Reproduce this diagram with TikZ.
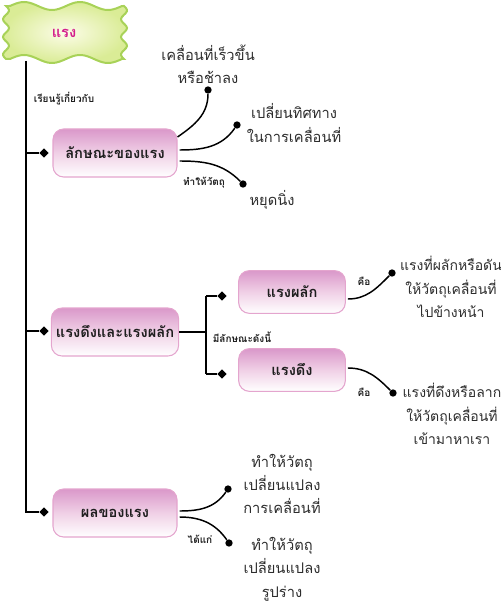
\documentclass[tikz,border=0pt]{standalone}
\usepackage{fontspec}
\setmainfont{Loma}[Script=Thai]
\usetikzlibrary{shapes.geometric,calc}
\definecolor{boxtop}{RGB}{218,152,202}
\definecolor{boxmid}{RGB}{240,208,230}
\definecolor{boxline}{RGB}{228,165,206}
\definecolor{txt}{RGB}{30,30,30}
\definecolor{leaftxt}{RGB}{45,45,45}
\definecolor{rootin}{RGB}{252,252,232}
\definecolor{rootout}{RGB}{218,236,150}
\definecolor{rootline}{RGB}{168,210,88}
\definecolor{roottxt}{RGB}{212,30,140}
\begin{document}
\begin{tikzpicture}[x=0.75pt,y=-0.75pt,
  box/.style={draw=boxline, line width=0.8pt, rounded corners=8pt,
    top color=boxtop, bottom color=white, middle color=boxmid,
    minimum width=93pt, minimum height=36pt, text=txt,
    font=\bfseries\fontsize{11}{13}\selectfont},
  sbox/.style={box, minimum width=80pt, minimum height=32pt},
  leaf/.style={align=center, text=leaftxt, font=\fontsize{11}{17.5}\selectfont},
  rleaf/.style={leaf, font=\fontsize{10.5}{17.5}\selectfont},
  lab/.style={text=txt, font=\bfseries\fontsize{7.5}{9}\selectfont},
  dia/.style={diamond, fill=black, inner sep=0pt, minimum size=7pt},
  dotn/.style={circle, fill=black, inner sep=0pt, minimum size=5.5pt},
  conn/.style={line width=1.1pt, black},
  trunk/.style={line width=1pt, black}]
\useasboundingbox (0,0) rectangle (500,602);

% root wavy shape
\path[draw=rootline, line width=1.5pt, inner color=rootin, outer color=rootout]
  plot[domain=0:1, samples=40, smooth] ({10+112*\x},{6-4*sin(720*\x)})
  -- plot[domain=0:1, samples=30, smooth] ({124+3*sin(1080*\x)},{6+53*\x})
  -- plot[domain=0:1, samples=40, smooth] ({122-112*\x},{59+4*sin(720*\x)})
  -- plot[domain=0:1, samples=30, smooth] ({6-3*sin(1080*\x)},{59-53*\x})
  -- cycle;
\node[minimum width=90pt, minimum height=41pt, text=roottxt,
  font=\bfseries\fontsize{11}{13}\selectfont] (root) at (64,33) {แรง};
\coordinate (t0) at (26,61);

% labels on trunk
\node[lab] (lk) at (64,99) {เรียนรู้เกี่ยวกับ};

% branch 1
\node[dia] (d1) at (44,153) {};
\node[box] (b1) at (115,153) {ลักษณะของแรง};
\node[dotn] (p1) at (208,90) {};
\node[dotn] (p2) at (237,125) {};
\node[dotn] (p3) at (243,184) {};
\node[leaf] (l1) at (208,64) {เคลื่อนที่เร็วขึ้น\\หรือช้าลง};
\node[leaf] (l2) at (294,123) {เปลี่ยนทิศทาง\\ในการเคลื่อนที่};
\node[leaf] (l3) at (272,200) {หยุดนิ่ง};
\node[lab] (lb1) at (204,183) {ทำให้วัตถุ};
\draw[conn] ($(b1.east)+(0,-16)$) to[out=35,in=-90] (p1);
\draw[conn] ($(b1.east)+(2,-3)$) to[out=0,in=-125] (p2);
\draw[conn] ($(b1.east)+(2,8)$) to[out=0,in=135] (p3);

% branch 2
\node[dia] (d2) at (44,331) {};
\node[box] (b2) at (115,332) {แรงดึงและแรงผลัก};
\coordinate (j) at (206,332);
\node[dia] (d4) at (222,296) {};
\node[dia] (d5) at (222,374) {};
\node[sbox] (b4) at (292,292) {แรงผลัก};
\node[sbox] (b5) at (292,370) {แรงดึง};
\node[lab] (lb2) at (242,337) {มีลักษณะดังนี้};
\draw[trunk] (b2.east) -- (j);
\draw[trunk] (j |- d4) -- (j |- d5);
\draw[trunk] (j |- d4) -- (d4);
\draw[trunk] (j |- d5) -- (d5);
\node[dotn] (q1) at (392,273) {};
\node[dotn] (q2) at (393,393) {};
\node[lab] (k1) at (364,281) {คือ};
\node[lab] (k2) at (364,392) {คือ};
\draw[conn] ($(b4.east)+(2,7)$) to[out=0,in=-135] (q1);
\draw[conn] ($(b5.east)+(2,-2)$) to[out=0,in=135] (q2);
\node[rleaf] (r1) at (451,287) {แรงที่ผลักหรือดัน\\ให้วัตถุเคลื่อนที่\\ไปข้างหน้า};
\node[rleaf] (r2) at (452,414) {แรงที่ดึงหรือลาก\\ให้วัตถุเคลื่อนที่\\เข้ามาหาเรา};

% branch 3
\node[dia] (d3) at (44,512) {};
\node[box] (b3) at (115,513) {ผลของแรง};
\node[dotn] (s1) at (228,489) {};
\node[dotn] (s2) at (229,543) {};
\node[lab] (lb3) at (200,539) {ได้แก่};
\draw[conn] ($(b3.east)+(2,-2)$) to[out=0,in=-125] (s1);
\draw[conn] ($(b3.east)+(2,4)$) to[out=0,in=125] (s2);
\node[leaf] (e1) at (282,484) {ทำให้วัตถุ\\เปลี่ยนแปลง\\การเคลื่อนที่};
\node[leaf] (e2) at (282,569) {ทำให้วัตถุ\\เปลี่ยนแปลง\\รูปร่าง};

% trunk
\draw[trunk] (t0) -- (t0 |- d3) -- (d3);
\draw[trunk] (t0 |- d1) -- (d1);
\draw[trunk] (t0 |- d2) -- (d2);
\end{tikzpicture}
\end{document}
